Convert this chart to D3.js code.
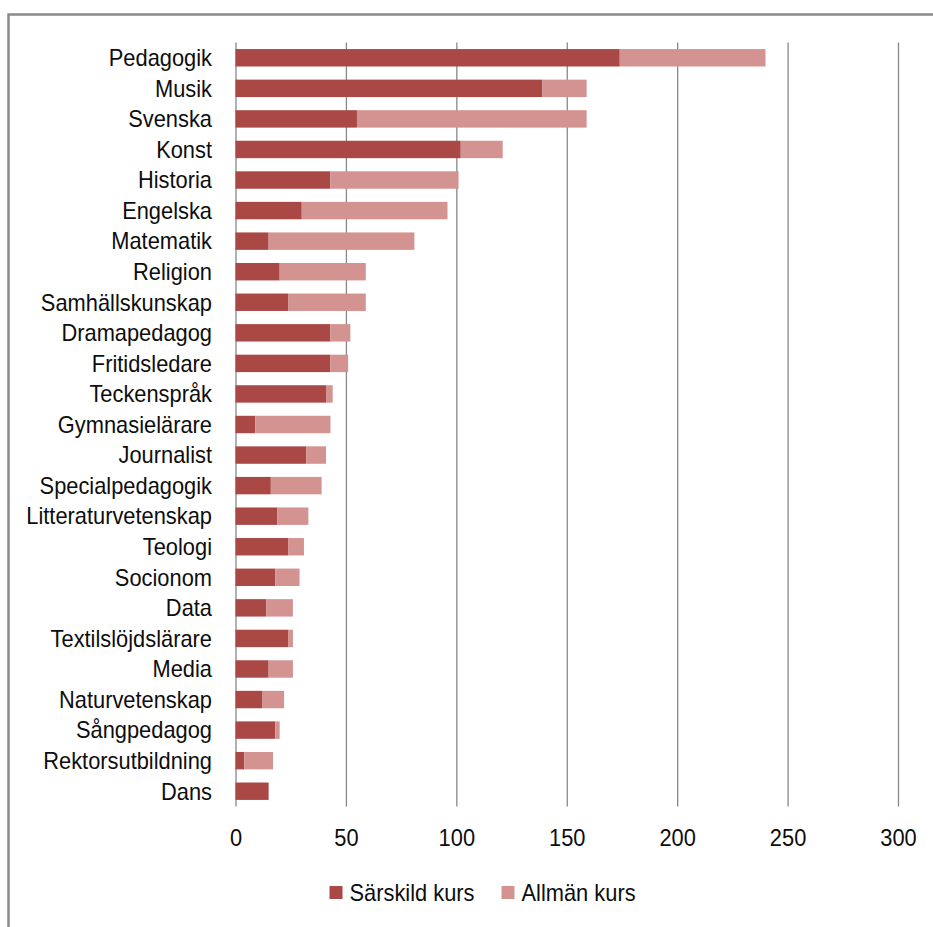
<!DOCTYPE html>
<html lang="sv">
<head>
  <meta charset="UTF-8">
  <title>Kurser per ämne</title>
<style>
    body { margin: 0; background: #fff; }
    svg { display: block; font-family: "Liberation Sans", Arial, sans-serif; }
    .grid line { stroke: #888; stroke-width: 1.3; }
    .lbl text { font-size: 23px; fill: #0d0d0d; }
  </style>
</head>
<body>
<svg id="chart" width="933" height="927"></svg>
<script src="https://d3js.org/d3.v7.min.js"></script>
<script>
    // data
    const categories = ['Pedagogik', 'Musik', 'Svenska', 'Konst', 'Historia', 'Engelska',
      'Matematik', 'Religion', 'Samhällskunskap', 'Dramapedagog', 'Fritidsledare',
      'Teckenspråk', 'Gymnasielärare', 'Journalist', 'Specialpedagogik',
      'Litteraturvetenskap', 'Teologi', 'Socionom', 'Data', 'Textilslöjdslärare',
      'Media', 'Naturvetenskap', 'Sångpedagog', 'Rektorsutbildning', 'Dans'];
    const sarskild = [174, 139, 55, 102, 43, 30, 15, 20, 24, 43, 43, 41, 9, 32, 16, 19, 24, 18, 14, 24, 15, 12, 18, 4, 15];
    const allman = [66, 20, 104, 19, 58, 66, 66, 39, 35, 9, 8, 3, 34, 9, 23, 14, 7, 11, 12, 2, 11, 10, 2, 13, 0];
    const seriesNames = ['Särskild kurs', 'Allmän kurs'];
    const seriesColors = ['#a94845', '#d39391'];
    const xTicks = [0, 50, 100, 150, 200, 250, 300];

    const svg = d3.select('#chart');
    const sx = 0.95; // labels in the picture are a bit narrow

    // frame
    svg.append('rect')
      .attr('x', 8.5).attr('y', 14.5)
      .attr('width', 1000).attr('height', 1000)
      .attr('fill', 'none').attr('stroke', '#8a8a8a').attr('stroke-width', 2.5);

    const plot = { left: 235.5, right: 898, top: 42.5, bottom: 806.5 };

    const x = d3.scaleLinear().domain([0, 300]).range([plot.left, plot.right]);
    const y = d3.scaleBand().domain(categories).range([plot.top, plot.bottom])
      .paddingInner(0.43).paddingOuter(0.215);

    // grid lines
    svg.append('g')
      .attr('class', 'grid')
      .attr('transform', `translate(0,${plot.top})`)
      .call(d3.axisTop(x).tickValues(xTicks).tickSize(-(plot.bottom - plot.top)).tickFormat(''))
      .call(g => g.select('.domain').remove());

    const rows = categories.map((c, i) => ({ cat: c, s: sarskild[i], a: allman[i] }));
    const stack = d3.stack().keys(['s', 'a'])(rows);

    svg.append('g').selectAll('g')
      .data(stack)
      .join('g')
      .attr('fill', (d, i) => seriesColors[i])
      .selectAll('rect')
      .data(d => d)
      .join('rect')
      .attr('x', d => x(d[0]))
      .attr('y', d => y(d.data.cat))
      .attr('width', d => x(d[1]) - x(d[0]))
      .attr('height', y.bandwidth());

    // category labels
    svg.append('g')
      .attr('class', 'lbl')
      .attr('transform', `translate(${plot.left},0)`)
      .call(d3.axisLeft(y).tickSize(0).tickPadding(23.5 / sx))
      .call(g => g.select('.domain').remove())
      .selectAll('text')
      .attr('dy', '0.36em')
      .attr('transform', `scale(${sx},1)`);

    // value labels
    svg.append('g')
      .attr('class', 'lbl')
      .attr('transform', `translate(0,${plot.bottom})`)
      .call(d3.axisBottom(x).tickValues(xTicks).tickSize(0).tickPadding(23.5))
      .call(g => g.select('.domain').remove())
      .selectAll('.tick text')
      .attr('transform', `scale(${sx},1)`);

    // legend
    const legendX = [329.5, 501.5];
    const leg = svg.append('g').attr('class', 'lbl')
      .selectAll('g')
      .data(seriesNames)
      .join('g')
      .attr('transform', (d, i) => `translate(${legendX[i]},886)`);
    leg.append('rect')
      .attr('width', 13).attr('height', 13)
      .attr('fill', (d, i) => seriesColors[i]);
    leg.append('text')
      .attr('x', 20 / sx)
      .attr('y', 15)
      .attr('transform', `scale(${sx},1)`)
      .text(d => d);
  </script>
</body>
</html>
